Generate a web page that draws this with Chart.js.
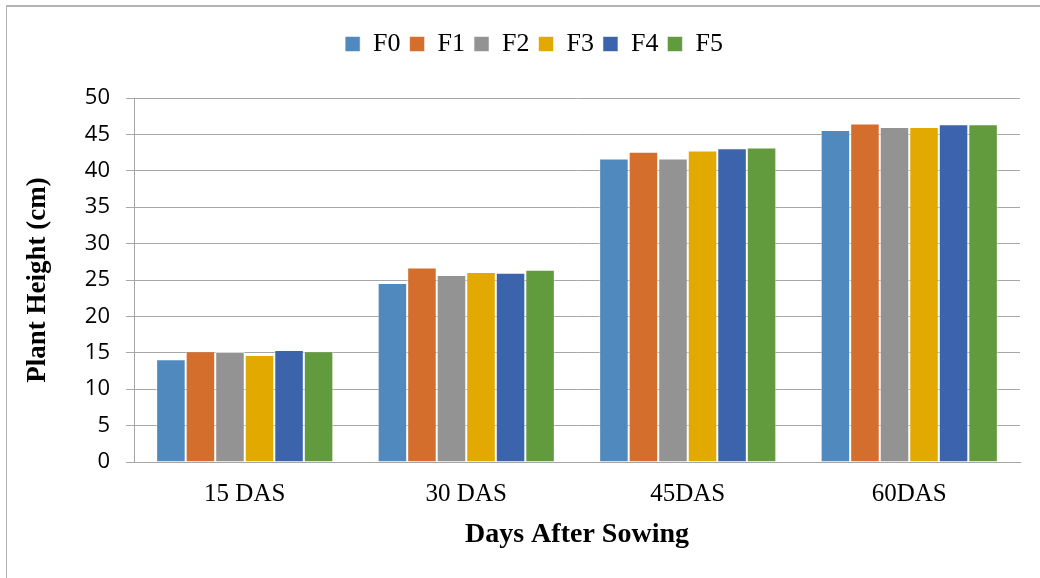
<!DOCTYPE html>
<html>
<head>
<meta charset="utf-8">
<script src="https://cdn.jsdelivr.net/npm/chart.js@4.4.1/dist/chart.umd.min.js"></script>
<style>
  html, body { margin: 0; padding: 0; background: #fff; overflow: hidden; }
  #wrap { position: relative; width: 1040px; height: 578px; }
  #frame { position: absolute; left: 6px; top: 5px; width: 1100px; height: 700px;
           border-top: 2px solid #b3b3b3; border-left: 1px solid #b3b3b3; pointer-events: none; }
  canvas { position: absolute; left: 0; top: 0; }
</style>
</head>
<body>
<div id="wrap">
  <canvas id="chart" width="1040" height="578"></canvas>
  <div id="frame"></div>
</div>
<script>
// ---- data ----
const categories = ['15 DAS', '30 DAS', '45DAS', '60DAS'];
const seriesNames = ['F0', 'F1', 'F2', 'F3', 'F4', 'F5'];
const f0 = [14.1, 24.6, 41.7, 45.6];
const f1 = [15.2, 26.7, 42.6, 46.5];
const f2 = [15.1, 25.7, 41.7, 46.0];
const f3 = [14.7, 26.1, 42.8, 46.0];
const f4 = [15.4, 26.0, 43.1, 46.4];
const f5 = [15.2, 26.4, 43.2, 46.4];
const yTicks = [0, 5, 10, 15, 20, 25, 30, 35, 40, 45, 50];

const seriesValues = [f0, f1, f2, f3, f4, f5];
const seriesColors = ['#4f89bd', '#d46e2c', '#939393', '#e2aa00', '#3b64ad', '#629a3e'];
const GRID = '#a6a6a6';

// extra space under the legend, and nudge it right like the original
const legendGap = {
    id: 'legendGap',
    beforeInit(chart) {
        const fit = chart.legend.fit;
        chart.legend.fit = function () {
            fit.bind(chart.legend)();
            this.height += 31;
        };
    },
    afterLayout(chart) {
        chart.legend.left += 24;
        chart.legend.right += 24;
    }
};

function createDatasets() {
    return seriesNames.map((name, i) => ({
        label: name,
        data: seriesValues[i],
        backgroundColor: seriesColors[i],
        borderColor: 'rgba(255,255,255,0.55)',
        borderWidth: 1,
        categoryPercentage: 0.8,
        barPercentage: 1.0
    }));
}

new Chart(document.getElementById('chart').getContext('2d'), {
    type: 'bar',
    data: { labels: categories, datasets: createDatasets() },
    options: {
        responsive: false,
        animation: false,
        layout: { padding: { left: 0, right: 20, top: 22, bottom: 0 } },
        plugins: {
            tooltip: { enabled: false },
            legend: {
                position: 'top',
                labels: {
                    boxWidth: 15,
                    boxHeight: 15,
                    padding: 9,
                    color: '#000',
                    font: { family: 'Liberation Serif', size: 26 }
                }
            }
        },
        scales: {
            x: {
                grid: { display: false, drawTicks: false },
                border: { display: true, color: GRID, width: 1 },
                ticks: {
                    color: '#000',
                    padding: 17,
                    font: { family: 'Liberation Serif', size: 25 }
                },
                title: {
                    display: true,
                    text: 'Days After Sowing',
                    color: '#000',
                    padding: { top: 0, bottom: 26 },
                    font: { family: 'Liberation Serif', size: 28, weight: 'bold' }
                },
                afterFit: scale => { scale.height = 116; }
            },
            y: {
                min: 0,
                max: 50,
                afterBuildTicks: scale => { scale.ticks = yTicks.map(v => ({ value: v })); },
                grid: { color: GRID, lineWidth: 1, tickLength: 8 },
                border: { display: true, color: GRID, width: 1 },
                ticks: {
                    color: '#000',
                    padding: 16,
                    font: { family: 'Open Sans', size: 22 }
                },
                title: {
                    display: true,
                    text: 'Plant Height (cm)',
                    color: '#000',
                    padding: { top: 22, bottom: 0 },
                    font: { family: 'Liberation Serif', size: 27, weight: 'bold' }
                },
                afterFit: scale => { scale.width = 134; }
            }
        }
    },
    plugins: [legendGap]
});
</script>
</body>
</html>
